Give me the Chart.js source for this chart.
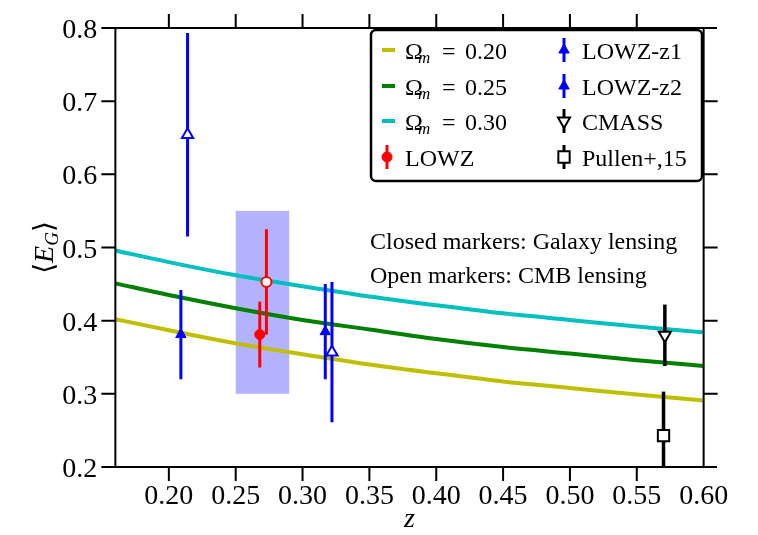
<!DOCTYPE html>
<html>
<head>
<meta charset="utf-8">
<script src="https://cdn.jsdelivr.net/npm/chart.js@4.4.0/dist/chart.umd.min.js"></script>
<style>
body { margin: 0; background: #fff; }
.chart-box { width: 758px; height: 535px; position: relative; }
</style>
</head>
<body>
<div class="chart-box"><canvas class="chart-eg"></canvas></div>
<script>
// model curves, E_G(z) for three values of Omega_m
const zModel = [0.16, 0.20, 0.25, 0.30, 0.35, 0.40, 0.45, 0.50, 0.55, 0.60];
const egOm020 = [0.402, 0.387, 0.369, 0.354, 0.340, 0.328, 0.317, 0.308, 0.299, 0.291];
const egOm025 = [0.451, 0.435, 0.417, 0.401, 0.388, 0.375, 0.364, 0.355, 0.346, 0.338];
const egOm030 = [0.496, 0.480, 0.462, 0.447, 0.433, 0.421, 0.410, 0.401, 0.392, 0.384];
const omegaLabels = ['0.20', '0.25', '0.30'];
const modelColours = ['#bfbf00', '#008000', '#00bfbf'];

// measurements: redshift, <E_G>, 1-sigma error
const lowzZ = [0.268], lowzE = [0.381], lowzErr = [0.045];
const lowzCmbZ = [0.273], lowzCmbE = [0.453], lowzCmbErr = [0.072];
const lowz1Z = [0.209, 0.317], lowz1E = [0.381, 0.385], lowz1Err = [0.061, 0.065];
const lowz2Z = [0.214, 0.322], lowz2E = [0.654, 0.357], lowz2Err = [0.139, 0.096];
const cmassZ = [0.571], cmassE = [0.380], cmassErr = [0.042];
const pullenZ = [0.570], pullenE = [0.243], pullenErr = [0.060];

// LOWZ redshift / E_G band
const bandZ = [0.25, 0.29];
const bandE = [0.30, 0.55];

const xTicks = [0.20, 0.25, 0.30, 0.35, 0.40, 0.45, 0.50, 0.55, 0.60];
const yTicks = [0.2, 0.3, 0.4, 0.5, 0.6, 0.7, 0.8];

const serif = '"Liberation Serif", "DejaVu Serif", serif';

function curve(ys) {
    return zModel.map((z, i) => ({ x: z, y: ys[i] }));
}

function points(zs, es) {
    return zs.map((z, i) => ({ x: z, y: es[i] }));
}

// vertical bars, separated by gaps so one dataset holds several
function bars(zs, es, errs) {
    const out = [];
    zs.forEach((z, i) => {
        out.push({ x: z, y: es[i] - errs[i] });
        out.push({ x: z, y: es[i] + errs[i] });
        out.push({ x: z, y: null });
    });
    return out;
}

function curveSet(ys, colour) {
    return { data: curve(ys), showLine: true, borderColor: colour, borderWidth: 4,
        pointRadius: 0, cubicInterpolationMode: 'monotone', order: 3 };
}

function barSet(zs, es, errs, colour, width) {
    return { data: bars(zs, es, errs), showLine: true, spanGaps: false, borderColor: colour,
        borderWidth: width, pointRadius: 0, order: 2 };
}

function markerSet(zs, es, colour, style, radius, open, rotation) {
    return { data: points(zs, es), pointStyle: style, pointRadius: radius, pointRotation: rotation || 0,
        pointBackgroundColor: open ? '#ffffff' : colour, pointBorderColor: colour,
        pointBorderWidth: open ? 2 : 1, order: 1 };
}

const bandPlugin = {
    id: 'band',
    beforeDatasetsDraw(chart) {
        const { ctx, scales: { x, y } } = chart;
        const x0 = x.getPixelForValue(bandZ[0]), x1 = x.getPixelForValue(bandZ[1]);
        const y0 = y.getPixelForValue(bandE[1]), y1 = y.getPixelForValue(bandE[0]);
        ctx.save();
        ctx.fillStyle = 'rgba(0, 0, 255, 0.3)';
        ctx.fillRect(x0, y0, x1 - x0, y1 - y0);
        ctx.restore();
    }
};

function legendBar(ctx, x, y, colour, style, radius, open, rotation) {
    ctx.strokeStyle = colour;
    ctx.lineWidth = 3;
    ctx.beginPath();
    ctx.moveTo(x, y - 12);
    ctx.lineTo(x, y + 12);
    ctx.stroke();
    ctx.fillStyle = open ? '#ffffff' : colour;
    ctx.lineWidth = open ? 2 : 1;
    Chart.helpers.drawPoint(ctx, { pointStyle: style, radius: radius, rotation: rotation || 0, borderWidth: ctx.lineWidth }, x, y);
}

const framePlugin = {
    id: 'frame',
    afterDraw(chart) {
        const { ctx, chartArea: { left, right, top, bottom }, scales: { x, y } } = chart;
        const xl = x.getPixelForValue(zModel[0]);
        const xr = x.getPixelForValue(zModel[zModel.length - 1]);
        ctx.save();
        ctx.strokeStyle = '#000';
        ctx.lineWidth = 2;
        ctx.beginPath();
        ctx.moveTo(left, bottom); ctx.lineTo(right, bottom);
        ctx.moveTo(left, top); ctx.lineTo(right, top);
        ctx.moveTo(xl, top); ctx.lineTo(xl, bottom);
        ctx.moveTo(xr, top); ctx.lineTo(xr, bottom);
        // x ticks, top and bottom, outward
        xTicks.slice(0, -1).forEach(t => {
            const px = x.getPixelForValue(t);
            ctx.moveTo(px, bottom); ctx.lineTo(px, bottom + 14);
            ctx.moveTo(px, top); ctx.lineTo(px, top - 14);
        });
        // y ticks, left and right, outward
        yTicks.forEach((t, i) => {
            const py = y.getPixelForValue(t);
            ctx.moveTo(xl - 14, py); ctx.lineTo(xl, py);
            if (i > 0 && i < yTicks.length - 1) {
                ctx.moveTo(xr, py); ctx.lineTo(xr + 14, py);
            }
        });
        ctx.stroke();

        // tick labels
        ctx.fillStyle = '#000';
        ctx.font = '28px ' + serif;
        ctx.textBaseline = 'alphabetic';
        ctx.textAlign = 'center';
        xTicks.forEach(t => ctx.fillText(t.toFixed(2), x.getPixelForValue(t), bottom + 37));
        ctx.textAlign = 'right';
        yTicks.forEach(t => ctx.fillText(t.toFixed(1), xl - 18, y.getPixelForValue(t) + 10));

        // axis titles
        ctx.textAlign = 'center';
        ctx.font = 'italic 28px ' + serif;
        ctx.fillText('z', (left + right) / 2, bottom + 60);

        ctx.save();
        ctx.translate(44, (top + bottom) / 2);
        ctx.rotate(-Math.PI / 2);
        ctx.textAlign = 'left';
        const parts = [['\u27E8', '28px ' + serif, 0], ['E', 'italic 28px ' + serif, 0],
            ['G', 'italic 19px ' + serif, 5], ['\u27E9', '28px ' + serif, 0]];
        let w = 0;
        parts.forEach(p => { ctx.font = p[1]; w += ctx.measureText(p[0]).width; });
        let cx = -w / 2;
        parts.forEach(p => {
            ctx.font = p[1];
            ctx.fillText(p[0], cx, 9 + p[2]);
            cx += ctx.measureText(p[0]).width;
        });
        ctx.restore();

        // notes
        ctx.textAlign = 'left';
        ctx.font = '24px ' + serif;
        ctx.fillText('Closed markers: Galaxy lensing', 370, 249);
        ctx.fillText('Open markers: CMB lensing', 370, 283);

        // legend box
        const bx = 371, by = 30, bw = 331, bh = 151;
        ctx.beginPath();
        ctx.roundRect(bx, by, bw, bh, 5);
        ctx.fillStyle = '#fff';
        ctx.fill();
        ctx.lineWidth = 2.5;
        ctx.strokeStyle = '#000';
        ctx.stroke();

        const rows = [50, 86, 121, 157];
        omegaLabels.forEach((lab, i) => {
            const ry = rows[i];
            ctx.strokeStyle = modelColours[i];
            ctx.lineWidth = 4;
            ctx.beginPath();
            ctx.moveTo(382, ry); ctx.lineTo(395, ry);
            ctx.stroke();
            ctx.fillStyle = '#000';
            ctx.font = '24px ' + serif;
            ctx.fillText('\u03A9', 405, ry + 9);
            ctx.font = 'italic 17px ' + serif;
            ctx.fillText('m', 418, ry + 13);
            ctx.font = '24px ' + serif;
            ctx.fillText('=', 442, ry + 9);
            ctx.fillText(lab, 465, ry + 9);
        });
        legendBar(ctx, 387, rows[3], '#ff0000', 'circle', 5, false);
        legendBar(ctx, 564, rows[0], '#0000ff', 'triangle', 6, false);
        legendBar(ctx, 564, rows[1], '#0000ff', 'triangle', 6, false);
        legendBar(ctx, 564, rows[2], '#000000', 'triangle', 7, true, 180);
        legendBar(ctx, 564, rows[3], '#000000', 'rect', 8, true);
        ctx.fillStyle = '#000';
        ctx.font = '24px ' + serif;
        ctx.fillText('LOWZ', 405, rows[3] + 9);
        ['LOWZ-z1', 'LOWZ-z2', 'CMASS', 'Pullen+,15'].forEach((lab, i) => ctx.fillText(lab, 582, rows[i] + 9));
        ctx.restore();
    }
};

new Chart(document.querySelector('.chart-eg'), {
    type: 'scatter',
    data: {
        datasets: [
            markerSet(lowzZ, lowzE, '#ff0000', 'circle', 5, false),
            markerSet(lowzCmbZ, lowzCmbE, '#ff0000', 'circle', 5, true),
            markerSet(lowz1Z, lowz1E, '#0000ff', 'triangle', 6, false),
            markerSet(lowz2Z, lowz2E, '#0000ff', 'triangle', 6.5, true),
            markerSet(cmassZ, cmassE, '#000000', 'triangle', 7, true, 180),
            markerSet(pullenZ, pullenE, '#000000', 'rect', 8, true),
            barSet(lowzZ, lowzE, lowzErr, '#ff0000', 3),
            barSet(lowzCmbZ, lowzCmbE, lowzCmbErr, '#ff0000', 3),
            barSet(lowz1Z, lowz1E, lowz1Err, '#0000ff', 3),
            barSet(lowz2Z, lowz2E, lowz2Err, '#0000ff', 3),
            barSet(cmassZ, cmassE, cmassErr, '#000000', 3.5),
            barSet(pullenZ, pullenE, pullenErr, '#000000', 3.5),
            curveSet(egOm020, modelColours[0]),
            curveSet(egOm025, modelColours[1]),
            curveSet(egOm030, modelColours[2])
        ]
    },
    options: {
        responsive: true,
        maintainAspectRatio: false,
        animation: false,
        layout: { padding: { left: 102, right: 41, top: 28, bottom: 68 } },
        scales: {
            x: { type: 'linear', min: 0.15, max: 0.61, display: false },
            y: { type: 'linear', min: 0.2, max: 0.8, display: false }
        },
        plugins: {
            legend: { display: false },
            tooltip: { enabled: false }
        }
    },
    plugins: [bandPlugin, framePlugin]
});
</script>
</body>
</html>
